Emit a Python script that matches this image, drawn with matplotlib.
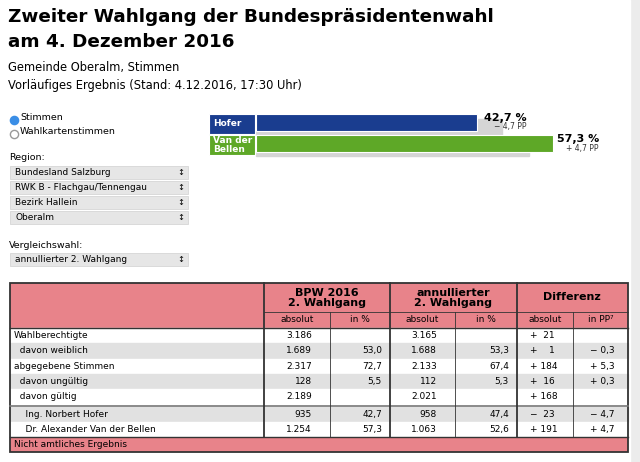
import matplotlib.pyplot as plt
from matplotlib.patches import Rectangle

candidates = ["Hofer", "Van der\nBellen"]
share_now = [42.7, 57.3]
share_prev = [47.4, 52.6]
pp_labels = ["\u2212 4,7 PP", "+ 4,7 PP"]
bar_colors = ["#1a3d8f", "#5ea827"]

regions = ["Bundesland Salzburg", "RWK B - Flachgau/Tennengau", "Bezirk Hallein", "Oberalm"]
row_labels = ["Wahlberechtigte", "  davon weiblich", "abgegebene Stimmen", "  davon ungültig",
              "  davon gültig", "    Ing. Norbert Hofer", "    Dr. Alexander Van der Bellen"]
bpw_abs = ["3.186", "1.689", "2.317", "128", "2.189", "935", "1.254"]
bpw_pct = ["", "53,0", "72,7", "5,5", "", "42,7", "57,3"]
ann_abs = ["3.165", "1.688", "2.133", "112", "2.021", "958", "1.063"]
ann_pct = ["", "53,3", "67,4", "5,3", "", "47,4", "52,6"]
diff_abs = ["+  21", "+    1", "+ 184", "+  16", "+ 168", "\u2212  23", "+ 191"]
diff_pp = ["", "\u2212 0,3", "+ 5,3", "+ 0,3", "", "\u2212 4,7", "+ 4,7"]

plt.rcParams['font.family'] = ['DejaVu Sans']
fig = plt.figure(figsize=(6.4, 4.62), dpi=100)
fig.patch.set_facecolor("#ececec")
ax = fig.add_axes([0, 0, 1, 1])
ax.set_xlim(0, 640)
ax.set_ylim(462, 0)
ax.axis("off")
ax.add_patch(Rectangle((0, 0), 630, 462, color="white"))

ax.text(8, 17, "Zweiter Wahlgang der Bundespräsidentenwahl", fontsize=13.2, weight="bold", va="center")
ax.text(8, 42, "am 4. Dezember 2016", fontsize=13.2, weight="bold", va="center")
ax.text(8, 68, "Gemeinde Oberalm, Stimmen", fontsize=8.3, va="center")
ax.text(8, 85, "Vorläufiges Ergebnis (Stand: 4.12.2016, 17:30 Uhr)", fontsize=8.3, va="center")

ax.scatter([14], [120], s=35, color="#3a8ee6", zorder=3)
ax.scatter([14], [134], s=35, facecolor="white", edgecolor="#999999", zorder=3)
ax.text(20, 118, "Stimmen", fontsize=6.8, va="center")
ax.text(20, 131, "Wahlkartenstimmen", fontsize=6.8, va="center")

ax.text(9, 158, "Region:", fontsize=6.8, va="center")
for i, r in enumerate(regions):
    y = 166 + i * 15
    ax.add_patch(Rectangle((10, y), 178, 13, facecolor="#e6e6e6", edgecolor="#d6d6d6", lw=0.6))
    ax.text(15, y + 6.5, r, fontsize=6.5, va="center")
    ax.text(181, y + 6.5, "\u2195", fontsize=6, va="center", ha="center")
ax.text(9, 245, "Vergleichswahl:", fontsize=6.8, va="center")
ax.add_patch(Rectangle((10, 253), 178, 13, facecolor="#e6e6e6", edgecolor="#d6d6d6", lw=0.6))
ax.text(15, 259.5, "annullierter 2. Wahlgang", fontsize=6.5, va="center")
ax.text(181, 259.5, "\u2195", fontsize=6, va="center", ha="center")

# bars
scale = 297 / 57.3
x0 = 256
for i, name in enumerate(candidates):
    top = 114 + i * 21
    ax.add_patch(Rectangle((x0, top + 5), share_prev[i] * scale, 16, color="#d5d5d5"))
    ax.add_patch(Rectangle((x0, top), share_now[i] * scale, 17, facecolor=bar_colors[i],
                           edgecolor="white", lw=0.8))
    ax.add_patch(Rectangle((209, top), 46, 20, facecolor=bar_colors[i], edgecolor="white", lw=0.8))
    ax.text(213, top + 10, name, color="white", fontsize=6.5, weight="bold", va="center", linespacing=0.95)
    xt = x0 + max(share_now[i], share_prev[i]) * scale + (25 if i == 0 else 46)
    ax.text(xt, top + 4, f"{share_now[i]:.1f} %".replace(".", ","), fontsize=8, weight="bold",
            ha="right", va="center")
    ax.text(xt, top + 13, pp_labels[i], fontsize=5.5, ha="right", va="center", color="#333")

# table
pink = "#e8838a"
L, R = 10, 628
cols = [10, 264, 330, 390, 455, 517, 573, 628]
ax.add_patch(Rectangle((L, 283), R - L, 45, facecolor=pink))
row_h = 15.3
y = 328
for i in range(len(row_labels)):
    if i == 5:
        y += 2
    ax.add_patch(Rectangle((L, y), R - L, row_h, color="#e1e1e1" if i % 2 else "white"))
    cy = y + row_h / 2
    ax.text(L + 4, cy, row_labels[i], fontsize=6.5, va="center")
    vals = [bpw_abs[i], bpw_pct[i], ann_abs[i], ann_pct[i]]
    for j, v in enumerate(vals):
        ax.text(cols[j + 2] - 18 if j % 2 == 0 else cols[j + 2] - 8, cy, v, fontsize=6.5,
                ha="right", va="center")
    ax.text(cols[5] + 13, cy, diff_abs[i], fontsize=6.5, va="center")
    ax.text(cols[7] - 13, cy, diff_pp[i], fontsize=6.5, va="center", ha="right")
    y += row_h
ax.plot([L, R], [406, 406], color="#777", lw=1.2)
ax.add_patch(Rectangle((L, y), R - L, 452 - y, facecolor=pink))
ax.text(L + 4, (y + 452) / 2, "Nicht amtliches Ergebnis", fontsize=6.5, va="center")
ax.add_patch(Rectangle((L, 283), R - L, 169, fill=False, edgecolor="#333", lw=1.3))
for x in [264, 390, 517]:
    ax.plot([x, x], [283, y], color="#333", lw=1.3)
for x in [330, 455, 573]:
    ax.plot([x, x], [312, y], color="#333", lw=0.6)
ax.plot([264, R], [312, 312], color="#333", lw=0.6)
ax.plot([L, R], [328, 328], color="#333", lw=1.0)
ax.plot([L, R], [y, y], color="#333", lw=1.0)
for x, t in [(327, "BPW 2016\n2. Wahlgang"), (453, "annullierter\n2. Wahlgang"), (572, "Differenz")]:
    ax.text(x, 297.5, t, fontsize=8, weight="bold", ha="center", va="center", linespacing=1.0)
subs = ["absolut", "in %", "absolut", "in %", "absolut", "in PP\u2077"]
for j, s in enumerate(subs):
    ax.text((cols[j + 1] + cols[j + 2]) / 2, 320, s, fontsize=6.5, ha="center", va="center")

fig.savefig("out.png", dpi=100, facecolor=fig.get_facecolor())
